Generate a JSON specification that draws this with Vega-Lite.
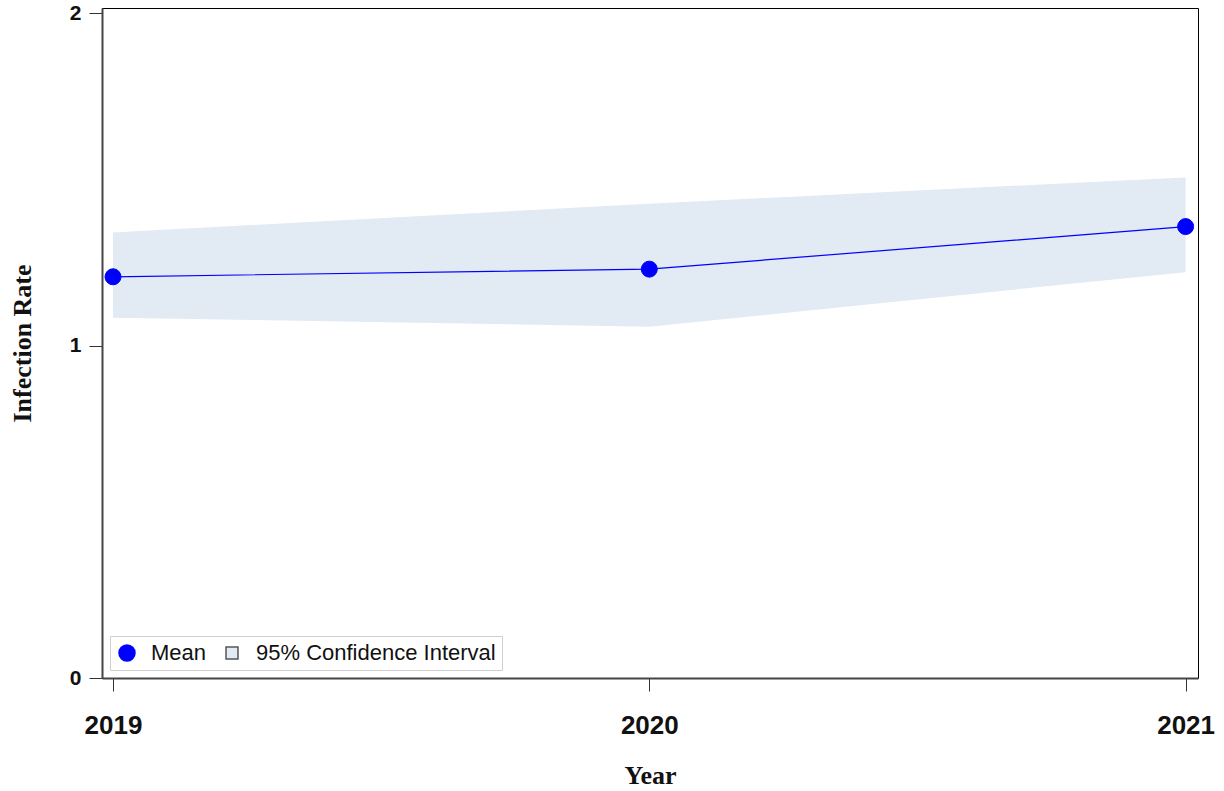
{
  "$schema": "https://vega.github.io/schema/vega-lite/v6.json",
  "width": 1096,
  "height": 670,
  "autosize": {"type": "none"},
  "padding": {"left": 102, "top": 8, "right": 26, "bottom": 113},
  "background": "white",
  "config": {
    "font": "Liberation Sans",
    "view": {"stroke": "#000000", "strokeWidth": 1}
  },
  "data": {
    "values": [
      {"year": 2019, "mean": 1.207, "lower": 1.084, "upper": 1.340},
      {"year": 2020, "mean": 1.230, "lower": 1.057, "upper": 1.427},
      {"year": 2021, "mean": 1.358, "lower": 1.221, "upper": 1.506}
    ]
  },
  "encoding": {
    "x": {
      "field": "year",
      "type": "quantitative",
      "scale": {"domain": [2018.9795, 2021.0231], "nice": false, "zero": false},
      "axis": {
        "title": "Year",
        "values": [2019, 2020, 2021],
        "tickCount": 10,
        "format": ".0f",
        "grid": false,
        "domain": true,
        "domainColor": "#444444",
        "domainWidth": 2,
        "tickColor": "#333333",
        "tickSize": 13,
        "tickWidth": 1,
        "labelFont": "Liberation Sans",
        "labelFontWeight": "bold",
        "labelFontSize": 26,
        "labelColor": "#111111",
        "labelPadding": 21,
        "labelFlush": false,
        "labelOverlap": false,
        "titleFont": "Liberation Serif",
        "titleFontWeight": "bold",
        "titleFontSize": 26,
        "titleColor": "#111111",
        "titleX": 548,
        "titleY": 97,
        "titleAlign": "center",
        "titleBaseline": "middle"
      }
    }
  },
  "layer": [
    {
      "mark": {"type": "area", "opacity": 1},
      "encoding": {
        "y": {
          "field": "lower",
          "type": "quantitative",
          "scale": {"domain": [0, 2.0156], "nice": false},
          "axis": {
            "title": "Infection Rate",
            "values": [0, 1, 2],
            "tickCount": 10,
            "format": ".0f",
            "grid": false,
            "domain": true,
            "domainColor": "#444444",
            "domainWidth": 2,
            "tickColor": "#333333",
            "tickSize": 13,
            "tickWidth": 1,
            "labelFont": "Liberation Sans",
            "labelFontWeight": "bold",
            "labelFontSize": 21,
            "labelColor": "#111111",
            "labelPadding": 8,
            "labelFlush": false,
            "labelOverlap": false,
            "titleFont": "Liberation Serif",
            "titleFontWeight": "bold",
            "titleFontSize": 26,
            "titleColor": "#111111",
            "titleAngle": -90,
            "titleX": -80,
            "titleY": 335,
            "titleAlign": "center",
            "titleBaseline": "middle"
          }
        },
        "y2": {"field": "upper"},
        "color": {
          "datum": "95% Confidence Interval",
          "type": "nominal",
          "scale": {
            "domain": ["Mean", "95% Confidence Interval"],
            "range": ["#0000ff", "#e2eaf4"]
          },
          "legend": {
            "title": null,
            "orient": "bottom-left",
            "direction": "horizontal",
            "offset": 8,
            "padding": 6,
            "strokeColor": "#cfcfcf",
            "fillColor": "#ffffff",
            "labelFont": "Liberation Sans",
            "labelFontSize": 22,
            "labelColor": "#111111",
            "labelLimit": 0,
            "labelOffset": 13,
            "columnPadding": 14,
            "symbolSize": 289
          }
        }
      }
    },
    {
      "mark": {"type": "line", "strokeWidth": 1.2, "color": "#0000ff"},
      "encoding": {
        "y": {"field": "mean", "type": "quantitative"}
      }
    },
    {
      "mark": {"type": "point", "filled": true, "strokeWidth": 1, "opacity": 1},
      "encoding": {
        "y": {"field": "mean", "type": "quantitative"},
        "color": {"datum": "Mean", "type": "nominal"},
        "stroke": {
          "datum": "Mean",
          "type": "nominal",
          "scale": {
            "domain": ["Mean", "95% Confidence Interval"],
            "range": ["#0000ff", "#555555"]
          },
          "legend": {"title": null, "orient": "bottom-left", "direction": "horizontal"}
        },
        "shape": {
          "datum": "Mean",
          "type": "nominal",
          "scale": {
            "domain": ["Mean", "95% Confidence Interval"],
            "range": ["circle", "square"]
          },
          "legend": {"title": null, "orient": "bottom-left", "direction": "horizontal"}
        },
        "size": {
          "datum": "Mean",
          "type": "nominal",
          "scale": {
            "type": "ordinal",
            "domain": ["Mean", "95% Confidence Interval"],
            "range": [256, 144]
          },
          "legend": {"title": null, "orient": "bottom-left", "direction": "horizontal"}
        }
      }
    }
  ]
}
